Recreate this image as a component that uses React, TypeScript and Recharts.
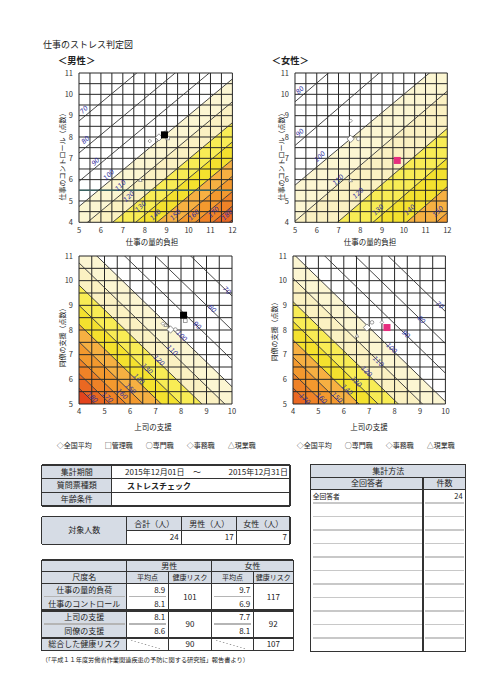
import React from 'react';
import { ComposedChart, XAxis, YAxis, Area, Line, Scatter, ReferenceLine } from 'recharts';

const FONT = "'Noto Sans CJK JP', 'Noto Sans', sans-serif";

// ---------- risk iso-lines: value at the left and right edge of each chart ----------
const dcEdgeX = [5, 12];
const maleDcLevels = [70, 80, 90, 100, 110, 120, 130, 140, 150, 160, 170, 180];
const maleDcAtLeft = [8.75, 7.25, 5.92, 4.74, 3.67, 2.69, 1.79, 0.96, 0.18, -0.54, -1.22, -1.86];
const maleDcAtRight = [14.73, 13.23, 11.9, 10.72, 9.65, 8.67, 7.77, 6.94, 6.16, 5.44, 4.76, 4.12];
const maleDcLabelX = [5.23, 5.3, 5.76, 6.37, 6.9, 7.28, 7.82, 8.5, 9.41, 10.25, 11.16, 11.77];
const maleDcLabelY = [9.27, 7.86, 6.84, 6.22, 5.72, 5.2, 4.73, 4.34, 4.34, 4.34, 4.47, 4.34];

const femaleDcLevels = [80, 90, 100, 110, 120, 130, 140, 150];
const femaleDcAtLeft = [9.65, 7.6, 5.74, 4.05, 2.3, 0.85, -0.55, -1.8];
const femaleDcAtRight = [15.8, 13.75, 11.7, 10.15, 8.4, 7.0, 5.67, 4.45];
const femaleDcLabelX = [5.23, 5.23, 6.15, 6.99, 7.91, 8.83, 10.28, 11.58];
const femaleDcLabelY = [10.19, 8.2, 7.07, 5.98, 5.36, 4.58, 4.58, 4.5];

const spEdgeX = [4, 10];
const maleSpLevels = [70, 80, 90, 100, 110, 120, 130, 140, 150, 160, 170, 180];
const maleSpAtLeft = [15.38, 14.0, 12.79, 11.7, 10.72, 9.82, 9.0, 8.23, 7.52, 6.85, 6.23, 5.64];
const maleSpAtRight = [9.38, 8.0, 6.79, 5.7, 4.72, 3.82, 3.0, 2.23, 1.52, 0.85, 0.23, -0.36];
const maleSpLabelX = [9.8, 9.22, 8.63, 8.02, 7.65, 7.13, 6.67, 6.35, 6.02, 5.69, 5.11, 4.52];
const maleSpLabelY = [9.6, 8.86, 8.18, 7.75, 7.17, 6.76, 6.42, 6.01, 5.61, 5.4, 5.27, 5.27];

const femaleSpLevels = [70, 80, 90, 100, 110, 120, 130, 140, 150, 160, 170];
const femaleSpAtLeft = [14.75, 13.45, 12.25, 11.1, 10.1, 9.15, 8.35, 7.6, 6.9, 6.25, 5.65];
const femaleSpAtRight = [8.75, 7.45, 6.25, 5.1, 4.1, 3.15, 2.35, 1.6, 0.9, 0.25, -0.35];
const femaleSpLabelX = [9.77, 9.05, 8.44, 7.87, 7.35, 6.89, 6.49, 6.13, 5.73, 5.12, 4.46];
const femaleSpLabelY = [9.01, 8.41, 7.82, 7.26, 6.72, 6.31, 5.9, 5.57, 5.26, 5.23, 5.2];

const bandColors: Record<number, string> = {
  100: '#FCF6D2', 110: '#FBF1C2', 120: '#F8EC55', 130: '#F4E12E',
  140: '#F6B042', 150: '#F3992E', 160: '#EF8227', 170: '#EA6822', 180: '#E3441D',
};

// ---------- group reference points (全国平均, 管理職, 専門職, 事務職, 現業職) ----------
const groupNames = ['全国平均', '管理職', '専門職', '事務職', '現業職'];
const maleDcGroupX = [8.65, 9.05, 8.95, 8.23, 7.8];
const maleDcGroupY = [7.98, 7.95, 8.2, 7.81, 5.98];
const femaleDcGroupX = [7.56, null, 7.91, 7.56, 7.56];
const femaleDcGroupY = [7.91, null, 7.91, 8.76, 5.97];
const maleSpGroupX = [7.59, 8.17, 7.78, 7.29, 7.4];
const maleSpGroupY = [8.02, 8.38, 8.02, 8.26, 8.2];
const femaleSpGroupX = [6.91, null, 7.11, 7.5, 6.52];
const femaleSpGroupY = [8.1, null, 8.31, 8.31, 7.77];

// ---------- results ----------
const scaleNames = ['仕事の量的負荷', '仕事のコントロール', '上司の支援', '同僚の支援'];
const maleScores = [8.9, 8.1, 8.1, 8.6];
const femaleScores = [9.7, 6.9, 7.7, 8.1];
const maleRisks = [101, 90, 90];
const femaleRisks = [117, 92, 107];
const headcountLabels = ['合計（人）', '男性（人）', '女性（人）'];
const headcounts = [24, 17, 7];
const methodRows = ['全回答者'];
const methodCounts = [24];

const FLOOR = -30;
const range = (a: number, b: number, s: number) => {
  const r: number[] = [];
  for (let v = a; v <= b + 1e-9; v += s) r.push(Math.round(v * 10) / 10);
  return r;
};

const groupKinds = ['diamond', 'square', 'circle', 'diamond', 'triangle'];

function markerShape(kind: string, r: number, fill: string, stroke: string, sw = 0.8) {
  return (p: any) => {
    const { cx, cy } = p;
    if (cx == null || cy == null) return <g />;
    if (kind === 'square')
      return <rect x={cx - r} y={cy - r} width={2 * r} height={2 * r} fill={fill} stroke={stroke} strokeWidth={sw} />;
    if (kind === 'circle') return <circle cx={cx} cy={cy} r={r} fill={fill} stroke={stroke} strokeWidth={sw} />;
    if (kind === 'triangle')
      return (
        <polygon
          points={`${cx},${cy - r} ${cx + r},${cy + r * 0.8} ${cx - r},${cy + r * 0.8}`}
          fill={fill}
          stroke={stroke}
          strokeWidth={sw}
        />
      );
    return (
      <polygon
        points={`${cx},${cy - r} ${cx + r},${cy} ${cx},${cy + r} ${cx - r},${cy}`}
        fill={fill}
        stroke={stroke}
        strokeWidth={sw}
      />
    );
  };
}

type Box = { L: number; T: number; R: number; B: number };

function RiskChart(props: {
  box: Box;
  xDomain: [number, number];
  yDomain: [number, number];
  edgeX: number[];
  levels: number[];
  atLeft: number[];
  atRight: number[];
  labelX: number[];
  labelY: number[];
  labelAngle: number;
  groupX: (number | null)[];
  groupY: (number | null)[];
  result: [number, number];
  resultColor: string;
  accentY?: number;
}) {
  const { box, xDomain, yDomain, levels } = props;
  const width = box.R - box.L + 36;
  const height = box.B - box.T + 24;
  const data = props.edgeX.map((x, i) => {
    const vals = i === 0 ? props.atLeft : props.atRight;
    const row: any = { x };
    levels.forEach((lv, k) => {
      row['l' + lv] = vals[k];
      if (lv >= 100) {
        const lower = k + 1 < levels.length ? vals[k + 1] : FLOOR;
        row['b' + lv] = [lower, vals[k]];
      }
    });
    return row;
  });
  const bands = levels.filter((lv) => lv >= 100);
  const gridX = range(xDomain[0], xDomain[1], 0.5);
  const gridY = range(yDomain[0], yDomain[1], 0.5);
  const xInt = range(xDomain[0], xDomain[1], 1);
  const yInt = range(yDomain[0], yDomain[1], 1);
  const labels = levels.map((lv, i) => ({ x: props.labelX[i], y: props.labelY[i], t: lv }));
  const tick = { fontSize: 7.5, fill: '#333', fontFamily: FONT };
  const labelShape = (p: any) => {
    const { cx, cy, payload } = p;
    return (
      <text
        x={cx}
        y={cy}
        transform={`rotate(${props.labelAngle} ${cx} ${cy})`}
        textAnchor="middle"
        dominantBaseline="central"
        fontSize={6.5}
        fontStyle="italic"
        fontFamily="'DejaVu Sans', sans-serif"
        fill="#2E2E9E"
      >
        {payload.t}
      </text>
    );
  };
  return (
    <div style={{ position: 'absolute', left: box.L - 30, top: box.T - 6 }}>
      <ComposedChart width={width} height={height} data={data} margin={{ top: 6, right: 6, bottom: 4, left: 6 }}>
        <XAxis
          type="number"
          dataKey="x"
          domain={xDomain}
          allowDataOverflow
          ticks={xInt}
          interval={0}
          tickLine={false}
          axisLine={false}
          tick={tick}
          tickSize={4}
          tickMargin={1}
          height={14}
        />
        <YAxis
          type="number"
          domain={yDomain}
          allowDataOverflow
          ticks={yInt}
          interval={0}
          tickLine={false}
          axisLine={false}
          tick={tick}
          tickSize={4}
          tickMargin={2}
          width={24}
        />
        {bands.map((lv) => (
          <Area
            key={'b' + lv}
            type="linear"
            dataKey={'b' + lv}
            stroke="none"
            fill={bandColors[lv]}
            fillOpacity={1}
            dot={false}
            activeDot={false}
            isAnimationActive={false}
          />
        ))}
        {gridX.map((v) => (
          <ReferenceLine key={'gx' + v} x={v} stroke="#262626" strokeWidth={1} />
        ))}
        {gridY.map((v) => (
          <ReferenceLine key={'gy' + v} y={v} stroke="#262626" strokeWidth={1} />
        ))}
        {props.accentY != null && <ReferenceLine y={props.accentY} stroke="#3A6262" strokeWidth={1.5} />}
        {levels.map((lv) => (
          <Line
            key={'l' + lv}
            type="linear"
            dataKey={'l' + lv}
            stroke="#333"
            strokeWidth={0.9}
            dot={false}
            activeDot={false}
            isAnimationActive={false}
          />
        ))}
        <Scatter data={labels} dataKey="y" shape={labelShape} isAnimationActive={false} />
        {groupNames.map((g, i) =>
          props.groupX[i] == null ? null : (
            <Scatter
              key={g}
              name={g}
              data={[{ x: props.groupX[i], y: props.groupY[i] }]}
              dataKey="y"
              shape={markerShape(groupKinds[i], i === 0 ? 3.6 : 1.8, '#fff', '#777', i === 0 ? 0.8 : 0.7)}
              isAnimationActive={false}
            />
          )
        )}
        <Scatter
          data={[{ x: props.result[0], y: props.result[1] }]}
          dataKey="y"
          shape={markerShape('square', 3.5, props.resultColor, props.resultColor, 0)}
          isAnimationActive={false}
        />
      </ComposedChart>
    </div>
  );
}

function Txt(props: {
  x: number;
  y: number;
  size: number;
  anchor?: 'start' | 'middle' | 'end';
  rotate?: number;
  weight?: any;
  color?: string;
  children: any;
}) {
  const tx = props.anchor === 'middle' ? '-50%' : props.anchor === 'end' ? '-100%' : '0';
  return (
    <div
      style={{
        position: 'absolute',
        left: props.x,
        top: props.y,
        transform: `translate(${tx}, -50%)${props.rotate ? ` rotate(${props.rotate}deg)` : ''}`,
        transformOrigin: props.rotate ? `${props.anchor === 'middle' ? '50%' : '0'} 50%` : undefined,
        fontSize: props.size,
        fontWeight: props.weight,
        color: props.color || '#222',
        whiteSpace: 'nowrap',
        lineHeight: 1,
      }}
    >
      {props.children}
    </div>
  );
}

function Cell(props: {
  x1: number;
  x2: number;
  y1: number;
  y2: number;
  bg?: string;
  align?: 'left' | 'center' | 'right';
  size?: number;
  pad?: number;
  children?: any;
}) {
  const j = props.align === 'left' ? 'flex-start' : props.align === 'right' ? 'flex-end' : 'center';
  return (
    <div
      style={{
        position: 'absolute',
        left: props.x1,
        top: props.y1,
        width: props.x2 - props.x1,
        height: props.y2 - props.y1,
        background: props.bg,
        display: 'flex',
        alignItems: 'center',
        justifyContent: j,
        padding: `0 ${props.pad ?? 3}px`,
        boxSizing: 'border-box',
        fontSize: props.size ?? 8,
        whiteSpace: 'nowrap',
        lineHeight: 1,
        color: '#222',
      }}
    >
      {props.children}
    </div>
  );
}

const HL = (p: { x1: number; x2: number; y: number; w?: number; c?: string }) => (
  <div
    style={{
      position: 'absolute',
      left: p.x1,
      top: p.y - (p.w ?? 1.2) / 2,
      width: p.x2 - p.x1,
      height: p.w ?? 1.2,
      background: p.c ?? '#333',
    }}
  />
);
const VL = (p: { x: number; y1: number; y2: number; w?: number; c?: string }) => (
  <div
    style={{
      position: 'absolute',
      left: p.x - (p.w ?? 1.2) / 2,
      top: p.y1,
      width: p.w ?? 1.2,
      height: p.y2 - p.y1,
      background: p.c ?? '#333',
    }}
  />
);

const HEAD = '#D6DCE5';
const DIAG = 'linear-gradient(to top right, transparent 48%, #999 50%, transparent 52%)';

function LegendRow({ x, y, names }: { x: number; y: number; names: string[] }) {
  return (
    <div
      style={{
        position: 'absolute',
        left: x,
        top: y,
        transform: 'translateY(-50%)',
        display: 'flex',
        gap: 13,
        fontSize: 7,
        lineHeight: 1,
        whiteSpace: 'nowrap',
        color: '#222',
      }}
    >
      {names.map((n) => (
        <span key={n}>{n}</span>
      ))}
    </div>
  );
}

export default function App() {
  const cx = [41.7, 126.7, 168.3, 211.7, 253.3, 293.3];
  const ry = [560, 571.7, 583.3, 596.7, 610.5, 624, 637.8, 650.8];
  const methodTop = 489.3;
  const methodRowH = 13.53;
  const methodLines = range(1, 11, 1).map((k) => methodTop + k * methodRowH);
  const sym = ['◇', '□', '○', '◇', '△'];
  const maleLegend = groupNames.map((g, i) => sym[i] + g);
  const femaleLegend = groupNames.map((g, i) => sym[i] + g).filter((_, i) => i !== 1);
  return (
    <div
      style={{
        position: 'absolute',
        left: 0,
        top: 0,
        width: 500,
        height: 700,
        background: '#fff',
        fontFamily: FONT,
        overflow: 'hidden',
      }}
    >
      <Txt x={43} y={44} size={9}>
        仕事のストレス判定図
      </Txt>
      <Txt x={58} y={60.8} size={9.3} weight="bold">
        ＜男性＞
      </Txt>
      <Txt x={271.7} y={60.8} size={9.3} weight="bold">
        ＜女性＞
      </Txt>

      <RiskChart
        box={{ L: 79.3, T: 72.7, R: 232.7, B: 222 }}
        xDomain={[5, 12]}
        yDomain={[4, 11]}
        edgeX={dcEdgeX}
        levels={maleDcLevels}
        atLeft={maleDcAtLeft}
        atRight={maleDcAtRight}
        labelX={maleDcLabelX}
        labelY={maleDcLabelY}
        labelAngle={-45}
        groupX={maleDcGroupX}
        groupY={maleDcGroupY}
        result={[maleScores[0], maleScores[1]]}
        resultColor="#000"
        accentY={5.5}
      />
      <RiskChart
        box={{ L: 295, T: 72.7, R: 447.3, B: 222 }}
        xDomain={[5, 12]}
        yDomain={[4, 11]}
        edgeX={dcEdgeX}
        levels={femaleDcLevels}
        atLeft={femaleDcAtLeft}
        atRight={femaleDcAtRight}
        labelX={femaleDcLabelX}
        labelY={femaleDcLabelY}
        labelAngle={-45}
        groupX={femaleDcGroupX}
        groupY={femaleDcGroupY}
        result={[femaleScores[0], femaleScores[1]]}
        resultColor="#E62E7E"
      />
      <RiskChart
        box={{ L: 79.3, T: 256, R: 232.3, B: 404 }}
        xDomain={[4, 10]}
        yDomain={[5, 11]}
        edgeX={spEdgeX}
        levels={maleSpLevels}
        atLeft={maleSpAtLeft}
        atRight={maleSpAtRight}
        labelX={maleSpLabelX}
        labelY={maleSpLabelY}
        labelAngle={44}
        groupX={maleSpGroupX}
        groupY={maleSpGroupY}
        result={[maleScores[2], maleScores[3]]}
        resultColor="#000"
      />
      <RiskChart
        box={{ L: 293.3, T: 256, R: 445.7, B: 404 }}
        xDomain={[4, 10]}
        yDomain={[5, 11]}
        edgeX={spEdgeX}
        levels={femaleSpLevels}
        atLeft={femaleSpAtLeft}
        atRight={femaleSpAtRight}
        labelX={femaleSpLabelX}
        labelY={femaleSpLabelY}
        labelAngle={44}
        groupX={femaleSpGroupX}
        groupY={femaleSpGroupY}
        result={[femaleScores[2], femaleScores[3]]}
        resultColor="#E62E7E"
      />

      {/* axis titles */}
      <Txt x={152} y={241.7} size={7.5} anchor="middle">
        仕事の量的負担
      </Txt>
      <Txt x={61.7} y={155} size={7} anchor="middle" rotate={-90}>
        仕事のコントロール（点数）
      </Txt>
      <Txt x={370} y={241.7} size={7.5} anchor="middle">
        仕事の量的負担
      </Txt>
      <Txt x={280.5} y={155} size={7} anchor="middle" rotate={-90}>
        仕事のコントロール（点数）
      </Txt>
      <Txt x={153} y={426.7} size={7.5} anchor="middle">
        上司の支援
      </Txt>
      <Txt x={61.7} y={336} size={7} anchor="middle" rotate={-90}>
        同僚の支援（点数）
      </Txt>
      <Txt x={369} y={426.7} size={7.5} anchor="middle">
        上司の支援
      </Txt>
      <Txt x={274} y={330} size={7} anchor="middle" rotate={-90}>
        同僚の支援（点数）
      </Txt>

      <LegendRow x={56.7} y={445} names={maleLegend} />
      <LegendRow x={296.7} y={445} names={femaleLegend} />

      {/* ---------- Table A: period ---------- */}
      <Cell x1={41.7} x2={111.7} y1={465} y2={478.7} bg={HEAD}>
        集計期間
      </Cell>
      <Cell x1={41.7} x2={111.7} y1={478.7} y2={492.3} bg={HEAD}>
        質問票種類
      </Cell>
      <Cell x1={41.7} x2={111.7} y1={492.3} y2={506} bg={HEAD}>
        年齢条件
      </Cell>
      <Txt x={125} y={471.9} size={8}>
        2015年12月01日
      </Txt>
      <Txt x={197} y={471.9} size={8} anchor="middle">
        〜
      </Txt>
      <Txt x={288} y={471.9} size={8} anchor="end">
        2015年12月31日
      </Txt>
      <Txt x={127} y={485.5} size={8} weight="bold">
        ストレスチェック
      </Txt>
      {[465, 478.7, 492.3, 506].map((y) => (
        <HL key={'ta' + y} x1={41.7} x2={290} y={y} />
      ))}
      {[41.7, 111.7, 290].map((x) => (
        <VL key={'tav' + x} x={x} y1={465} y2={506} />
      ))}

      {/* ---------- Table B: headcount ---------- */}
      <Cell x1={41.7} x2={126.7} y1={516.7} y2={544.3} bg={HEAD}>
        対象人数
      </Cell>
      {headcountLabels.map((h, i) => (
        <Cell key={h} x1={126.7 + i * 55} x2={i === 2 ? 290 : 181.7 + i * 55} y1={516.7} y2={530.5} bg={HEAD}>
          {h}
        </Cell>
      ))}
      {headcounts.map((v, i) => (
        <Cell key={'hc' + i} x1={126.7 + i * 55} x2={i === 2 ? 290 : 181.7 + i * 55} y1={530.5} y2={544.3} align="right">
          {v}
        </Cell>
      ))}
      <HL x1={41.7} x2={290} y={516.7} />
      <HL x1={126.7} x2={290} y={530.5} />
      <HL x1={41.7} x2={290} y={544.3} />
      {[41.7, 126.7, 181.7, 236.7, 290].map((x) => (
        <VL key={'tbv' + x} x={x} y1={516.7} y2={544.3} />
      ))}

      {/* ---------- Table C: scores ---------- */}
      <Cell x1={cx[0]} x2={cx[1]} y1={ry[0]} y2={ry[1]} bg={HEAD} />
      <Cell x1={cx[1]} x2={cx[3]} y1={ry[0]} y2={ry[1]} bg={HEAD}>
        男性
      </Cell>
      <Cell x1={cx[3]} x2={cx[5]} y1={ry[0]} y2={ry[1]} bg={HEAD}>
        女性
      </Cell>
      {['尺度名', '平均点', '健康リスク', '平均点', '健康リスク'].map((h, i) => (
        <Cell key={'h2' + i} x1={cx[i]} x2={cx[i + 1]} y1={ry[1]} y2={ry[2]} bg={HEAD} size={i === 0 ? 8 : 7}>
          {h}
        </Cell>
      ))}
      {scaleNames.map((n, i) => (
        <Cell key={n} x1={cx[0]} x2={cx[1]} y1={ry[2 + i]} y2={ry[3 + i]} bg={HEAD}>
          {n}
        </Cell>
      ))}
      <Cell x1={cx[0]} x2={cx[1]} y1={ry[6]} y2={ry[7]} bg={HEAD}>
        総合した健康リスク
      </Cell>
      {maleScores.map((v, i) => (
        <Cell key={'ms' + i} x1={cx[1]} x2={cx[2]} y1={ry[2 + i]} y2={ry[3 + i]} align="right">
          {v.toFixed(1)}
        </Cell>
      ))}
      {femaleScores.map((v, i) => (
        <Cell key={'fs' + i} x1={cx[3]} x2={cx[4]} y1={ry[2 + i]} y2={ry[3 + i]} align="right">
          {v.toFixed(1)}
        </Cell>
      ))}
      <Cell x1={cx[2]} x2={cx[3]} y1={ry[2]} y2={ry[4]}>
        {maleRisks[0]}
      </Cell>
      <Cell x1={cx[2]} x2={cx[3]} y1={ry[4]} y2={ry[6]}>
        {maleRisks[1]}
      </Cell>
      <Cell x1={cx[2]} x2={cx[3]} y1={ry[6]} y2={ry[7]}>
        {maleRisks[2]}
      </Cell>
      <Cell x1={cx[4]} x2={cx[5]} y1={ry[2]} y2={ry[4]}>
        {femaleRisks[0]}
      </Cell>
      <Cell x1={cx[4]} x2={cx[5]} y1={ry[4]} y2={ry[6]}>
        {femaleRisks[1]}
      </Cell>
      <Cell x1={cx[4]} x2={cx[5]} y1={ry[6]} y2={ry[7]}>
        {femaleRisks[2]}
      </Cell>
      <div
        style={{ position: 'absolute', left: cx[1] + 3, top: ry[6] + 2, width: cx[2] - cx[1] - 10, height: ry[7] - ry[6] - 4, background: DIAG }}
      />
      <div
        style={{ position: 'absolute', left: cx[3] + 3, top: ry[6] + 2, width: cx[4] - cx[3] - 10, height: ry[7] - ry[6] - 4, background: DIAG }}
      />
      <HL x1={cx[0]} x2={cx[5]} y={ry[0]} w={1.4} />
      <HL x1={cx[0]} x2={cx[5]} y={ry[1]} />
      <HL x1={cx[0]} x2={cx[5]} y={ry[2]} w={1.4} />
      <HL x1={cx[0] + 2} x2={cx[1] - 2} y={ry[3]} c="#b5b5b5" />
      <HL x1={cx[1] + 2} x2={cx[2] - 2} y={ry[3]} c="#b5b5b5" />
      <HL x1={cx[3] + 2} x2={cx[4] - 2} y={ry[3]} c="#b5b5b5" />
      <HL x1={cx[0]} x2={cx[5]} y={ry[4]} w={2.2} />
      <HL x1={cx[0] + 2} x2={cx[1] - 2} y={ry[5]} c="#b5b5b5" />
      <HL x1={cx[1] + 2} x2={cx[2] - 2} y={ry[5]} c="#b5b5b5" />
      <HL x1={cx[3] + 2} x2={cx[4] - 2} y={ry[5]} c="#b5b5b5" />
      <HL x1={cx[0]} x2={cx[5]} y={ry[6]} w={2.2} />
      <HL x1={cx[0]} x2={cx[5]} y={ry[7]} w={1.4} />
      <VL x={cx[0]} y1={ry[0]} y2={ry[7]} w={1.4} />
      <VL x={cx[1]} y1={ry[0]} y2={ry[7]} />
      <VL x={cx[2]} y1={ry[1]} y2={ry[7]} />
      <VL x={cx[3]} y1={ry[0]} y2={ry[7]} />
      <VL x={cx[4]} y1={ry[1]} y2={ry[7]} />
      <VL x={cx[5]} y1={ry[0]} y2={ry[7]} w={1.4} />

      <Txt x={41.7} y={660} size={6.2}>
        （「平成１１年度労働省作業関連疾患の予防に関する研究班」報告書より）
      </Txt>

      {/* ---------- Table D: aggregation method ---------- */}
      <Cell x1={310.7} x2={465.7} y1={464.3} y2={477.7} bg={HEAD}>
        集計方法
      </Cell>
      <Cell x1={310.7} x2={423.3} y1={477.7} y2={489.3} bg={HEAD}>
        全回答者
      </Cell>
      <Cell x1={423.3} x2={465.7} y1={477.7} y2={489.3} bg={HEAD}>
        件数
      </Cell>
      {methodRows.map((n, i) => (
        <React.Fragment key={n}>
          <Cell x1={310.7} x2={423.3} y1={methodTop + i * methodRowH} y2={methodTop + (i + 1) * methodRowH} align="left" size={6.8} pad={2}>
            {n}
          </Cell>
          <Cell x1={423.3} x2={465.7} y1={methodTop + i * methodRowH} y2={methodTop + (i + 1) * methodRowH} align="right" size={7.5} pad={3}>
            {methodCounts[i]}
          </Cell>
        </React.Fragment>
      ))}
      {methodLines.map((y) => (
        <React.Fragment key={'ml' + y}>
          <HL x1={312.5} x2={421.5} y={y} w={1.6} c="#c8c8c8" />
          <HL x1={425.3} x2={464} y={y} w={1.6} c="#c8c8c8" />
        </React.Fragment>
      ))}
      <HL x1={310.7} x2={465.7} y={464.3} w={1.4} />
      <HL x1={310.7} x2={465.7} y={477.7} />
      <HL x1={310.7} x2={465.7} y={489.3} />
      <HL x1={310.7} x2={465.7} y={651.7} w={1.4} />
      <VL x={310.7} y1={464.3} y2={651.7} w={1.4} />
      <VL x={465.7} y1={464.3} y2={651.7} w={1.4} />
      <VL x={423.3} y1={477.7} y2={651.7} w={1.8} />
    </div>
  );
}
